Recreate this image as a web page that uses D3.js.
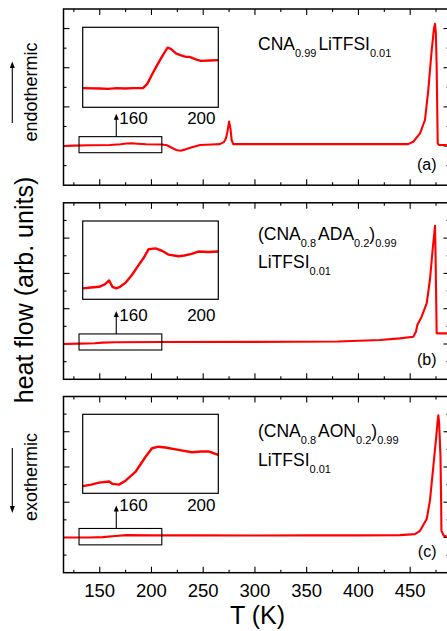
<!DOCTYPE html>
<html>
<head>
<meta charset="utf-8">
<script src="https://cdn.jsdelivr.net/npm/d3@7"></script>
<style>
  html, body { margin: 0; padding: 0; background: #fff; }
  svg { display: block; font-family: "Liberation Sans", Arial, Helvetica, sans-serif; }
</style>
</head>
<body>
<svg id="chart" width="447" height="631"></svg>
<script>
// ---------------- DATA ----------------
const tDomain = [115, 488];
const xTickValues = [150, 200, 250, 300, 350, 400, 450];
const xMinorTicks = [125, 175, 225, 275, 325, 375, 425, 475];
const insetTicks = [160, 200];
const insetDomain = [130, 210];

// main DSC traces (T in K, heat flow arb. units)
const seriesA = [[115,0],[125,0.02],[140,0.04],[160,0.05],[170,0.09],[176,0.13],[181,0.14],[186,0.12],[195,0.09],[210,0.08],[215,0.04],[220,-0.1],[224,-0.2],[228,-0.24],[233,-0.17],[240,-0.05],[247,0.05],[258,0.08],[266,0.1],[270,0.2],[272,0.4],[273.5,0.75],[275,1.25],[276.3,0.9],[277.5,0.3],[279,0.1],[300,0.1],[350,0.1],[400,0.1],[448,0.1],[453,0.22],[459.5,0.65],[464.3,1.33],[467.5,2.86],[470.8,4.9],[473,6.0],[474,6.24],[474.8,5.8],[475.6,4.05],[476.6,0.14],[478,0.05],[488,0.05]];
const seriesB = [[115,0],[130,0.02],[145,0.04],[153,0.08],[165,0.1],[210,0.11],[300,0.12],[380,0.14],[420.8,0.23],[440,0.32],[453,0.41],[455.6,0.7],[456.9,1.08],[461.1,1.55],[466,2.31],[469.1,3.64],[471.7,5.34],[473.5,6.4],[474,6.7],[474.5,5.2],[475,3.07],[475.6,0.61],[477,0.6],[488,0.6]];
const seriesC = [[115,0],[140,0.0],[153,0.02],[165,0.08],[176,0.13],[200,0.12],[250,0.12],[300,0.11],[350,0.12],[400,0.12],[440,0.13],[454.6,0.19],[459.5,0.38],[466,1.05],[469.1,2.09],[472.3,3.99],[475,5.6],[476.5,6.6],[477.2,6.93],[478,6.5],[479.3,4.56],[479.9,2.1],[480.2,0.38],[482.5,0.1],[488,0.0]];

// inset traces (T in K, normalised heat flow)
const insetA = [[130,0.24],[140,0.235],[145,0.23],[150,0.24],[155,0.235],[160,0.24],[165.5,0.24],[168,0.29],[171.3,0.425],[174,0.53],[177.2,0.65],[180.1,0.745],[182,0.73],[185,0.675],[188,0.65],[190.9,0.63],[193,0.63],[196.7,0.6],[199.7,0.58],[205,0.585],[210,0.59]];
const insetB = [[130,0.14],[135,0.15],[139.7,0.16],[143,0.19],[145.6,0.24],[147.5,0.16],[149.8,0.14],[152,0.16],[155.3,0.21],[159,0.31],[163.1,0.44],[166,0.53],[168.9,0.64],[172.9,0.65],[176.8,0.62],[180.7,0.57],[186.5,0.55],[190,0.56],[194.3,0.58],[198.2,0.61],[204,0.605],[210,0.61]];
const insetC = [[130,0.09],[135,0.11],[139.7,0.135],[145.6,0.15],[147.5,0.12],[151.4,0.11],[155.3,0.16],[161.1,0.27],[167,0.46],[170.9,0.57],[174.8,0.59],[178.7,0.58],[186.5,0.55],[194.3,0.52],[200,0.53],[204.1,0.53],[207,0.51],[210,0.485]];

const yDomains = [[-2, 7], [-2, 8], [-2, 8]];
const boxRanges = [[-0.34, 0.48], [-0.34, 0.57], [-0.42, 0.51]];
const panelTags = ["(a)", "(b)", "(c)"];
// composition labels: [text, isSubscript, dx]
const titlesA = [[["CNA",0],["0.99",1],["LiTFSI",0,2],["0.01",1]]];
const titlesB = [[["(CNA",0],["0.8",1],["ADA",0,2],["0.2",1],[")",0],["0.99",1]], [["LiTFSI",0],["0.01",1]]];
const titlesC = [[["(CNA",0],["0.8",1],["AON",0,2],["0.2",1],[")",0],["0.99",1]], [["LiTFSI",0],["0.01",1]]];

// ---------------- LAYOUT ----------------
const svg = d3.select("#chart");
const left = 63.5, right = 449.5;
const panels = [
  {top: 9,     height: 176.2, series: seriesA, inset: insetA, titles: titlesA, titleY: [49.5],        insetTop: 27.3,  insetH: 80,   insetLabelY: 124,   tagY: 170},
  {top: 202.8, height: 176.5, series: seriesB, inset: insetB, titles: titlesB, titleY: [240, 268.3],  insetTop: 221,   insetH: 78.3, insetLabelY: 320.5, tagY: 365},
  {top: 396.5, height: 176.2, series: seriesC, inset: insetC, titles: titlesC, titleY: [437.3, 465.7],insetTop: 414.3, insetH: 79,   insetLabelY: 510.5, tagY: 556.5}
];
const insetLeft = 82.7, insetRight = 218.3;

const x = d3.scaleLinear().domain(tDomain).range([left, right]);
const xi = d3.scaleLinear().domain(insetDomain).range([insetLeft, insetRight]);

const red = "#ff0000";

panels.forEach((p, i) => {
  const y = d3.scaleLinear().domain(yDomains[i]).range([p.top + p.height, p.top]);
  const g = svg.append("g");

  // y ticks (major on even values)
  const yt = d3.range(yDomains[i][0] + 1, yDomains[i][1]);
  yt.forEach(v => {
    const len = (v % 2 === 0) ? 6 : 3;
    g.append("line").attr("x1", left).attr("x2", left + len).attr("y1", y(v)).attr("y2", y(v)).attr("stroke", "#000").attr("stroke-width", 1.1);
    g.append("line").attr("x1", right).attr("x2", right - len).attr("y1", y(v)).attr("y2", y(v)).attr("stroke", "#000").attr("stroke-width", 1.1);
  });
  // x ticks top & bottom
  const xt = xTickValues.map(v => [v, 6]).concat(xMinorTicks.map(v => [v, 3]));
  xt.forEach(([v, len]) => {
    g.append("line").attr("x1", x(v)).attr("x2", x(v)).attr("y1", p.top + p.height).attr("y2", p.top + p.height - len).attr("stroke", "#000").attr("stroke-width", 1.1);
    g.append("line").attr("x1", x(v)).attr("x2", x(v)).attr("y1", p.top).attr("y2", p.top + len).attr("stroke", "#000").attr("stroke-width", 1.1);
  });

  // main trace
  const line = d3.line().x(d => x(d[0])).y(d => y(d[1]));
  g.append("path").datum(p.series).attr("d", line).attr("fill", "none").attr("stroke", red).attr("stroke-width", 2.1).attr("stroke-linejoin", "round");

  // frame
  g.append("rect").attr("x", left).attr("y", p.top).attr("width", right - left).attr("height", p.height).attr("fill", "none").attr("stroke", "#000").attr("stroke-width", 1.5);

  // zoom box
  const bx0 = x(insetDomain[0]), bx1 = x(insetDomain[1]);
  const by0 = y(boxRanges[i][1]), by1 = y(boxRanges[i][0]);
  g.append("rect").attr("x", bx0).attr("y", by0).attr("width", bx1 - bx0).attr("height", by1 - by0).attr("fill", "none").attr("stroke", "#000").attr("stroke-width", 1.1);
  // arrow
  const ax = x(166);
  g.append("line").attr("x1", ax).attr("x2", ax).attr("y1", by0).attr("y2", by0 - 18).attr("stroke", "#000").attr("stroke-width", 1.1);
  g.append("path").attr("d", `M${ax - 2.5},${by0 - 17} L${ax + 2.5},${by0 - 17} L${ax},${by0 - 23} Z`).attr("fill", "#000");

  // inset
  const yi = d3.scaleLinear().domain([0, 1]).range([p.insetTop + p.insetH, p.insetTop]);
  const iline = d3.line().x(d => xi(d[0])).y(d => yi(d[1]));
  g.append("path").datum(p.inset).attr("d", iline).attr("fill", "none").attr("stroke", red).attr("stroke-width", 2.4).attr("stroke-linejoin", "round");
  g.append("rect").attr("x", insetLeft).attr("y", p.insetTop).attr("width", insetRight - insetLeft).attr("height", p.insetH).attr("fill", "none").attr("stroke", "#000").attr("stroke-width", 1.2);
  insetTicks.forEach(v => {
    g.append("text").attr("x", xi(v)).attr("y", p.insetLabelY).attr("text-anchor", "middle").attr("font-size", 17).text(v);
  });

  // composition label
  p.titles.forEach((parts, li) => {
    const t = g.append("text").attr("x", 258).attr("y", p.titleY[li]).attr("font-size", 17.5);
    let sub = false;
    parts.forEach(([s, isSub, dx]) => {
      const ts = t.append("tspan").text(s);
      if (isSub && !sub) { ts.attr("dy", 7).attr("font-size", 11); sub = true; }
      else if (isSub) { ts.attr("font-size", 11); }
      else if (!isSub && sub) { ts.attr("dy", -7); sub = false; }
      if (dx) ts.attr("dx", dx);
    });
  });

  // panel tag
  g.append("text").attr("x", 436.5).attr("y", p.tagY).attr("text-anchor", "end").attr("font-size", 16).text(panelTags[i]);
});

// bottom x tick labels
const bottom = panels[2].top + panels[2].height;
xTickValues.forEach(v => {
  svg.append("text").attr("x", x(v)).attr("y", bottom + 24).attr("text-anchor", "middle").attr("font-size", 18.5).text(v);
});
svg.append("text").attr("x", 257.5).attr("y", 623.5).attr("text-anchor", "middle").attr("font-size", 25).text("T (K)");

// y axis title
svg.append("text").attr("transform", "translate(33,290) rotate(-90)").attr("text-anchor", "middle").attr("font-size", 25).text("heat flow (arb. units)");

// endothermic / exothermic
svg.append("text").attr("transform", "translate(36.5,92) rotate(-90)").attr("text-anchor", "middle").attr("font-size", 18).text("endothermic");
svg.append("line").attr("x1", 12.3).attr("x2", 12.3).attr("y1", 123).attr("y2", 67).attr("stroke", "#000").attr("stroke-width", 1.1);
svg.append("path").attr("d", "M9.8,68 L14.8,68 L12.3,61.5 Z").attr("fill", "#000");
svg.append("text").attr("transform", "translate(36.5,477) rotate(-90)").attr("text-anchor", "middle").attr("font-size", 18).text("exothermic");
svg.append("line").attr("x1", 12.3).attr("x2", 12.3).attr("y1", 448).attr("y2", 507).attr("stroke", "#000").attr("stroke-width", 1.1);
svg.append("path").attr("d", "M9.8,506 L14.8,506 L12.3,513 Z").attr("fill", "#000");
</script>
</body>
</html>
